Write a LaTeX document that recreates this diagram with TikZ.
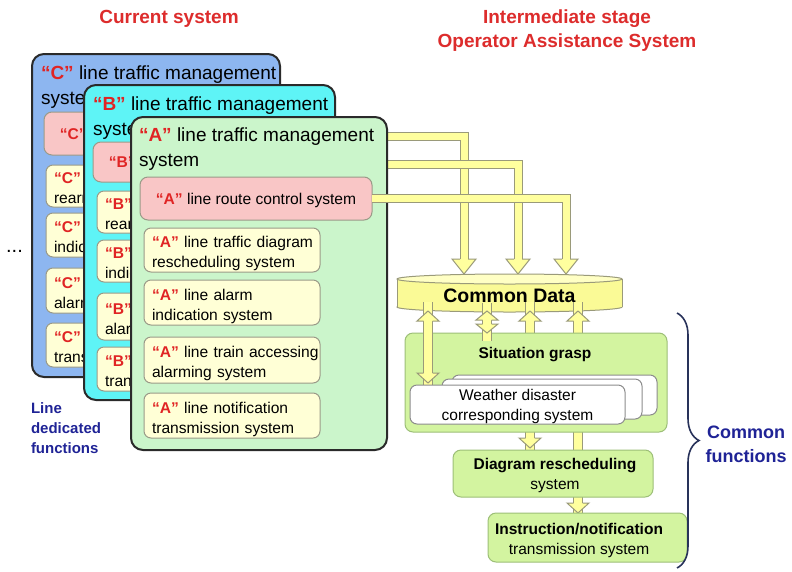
\documentclass[tikz,border=0pt]{standalone}
\usepackage{fontspec}
\setmainfont{Liberation Sans}
\usetikzlibrary{decorations.pathreplacing}

\definecolor{qred}{HTML}{E02424}
\definecolor{hred}{HTML}{DD2C2C}
\definecolor{navy}{HTML}{1F2396}
\definecolor{braceblue}{HTML}{28325A}
\definecolor{cblue}{HTML}{8DB6F0}
\definecolor{bcyan}{HTML}{5EF4F6}
\definecolor{agreen}{HTML}{CBF5CB}
\definecolor{pinkbox}{HTML}{F9C6C6}
\definecolor{creambox}{HTML}{FFFFD6}
\definecolor{fgreen}{HTML}{D3F4A0}
\definecolor{fgborder}{HTML}{9DBF78}
\definecolor{smallborder}{HTML}{9A9A88}
\definecolor{wborder}{HTML}{8C8C8C}
\definecolor{arrfill}{HTML}{FFFF9E}
\definecolor{arrline}{HTML}{9A9A7A}
\definecolor{cdbody}{HTML}{FAFA96}
\definecolor{cdtop}{HTML}{FFFFC4}
\definecolor{frame}{HTML}{2A2A2A}

% red bold line letter in quotes
\newcommand{\lineq}[1]{{\bfseries\color{qred}“#1”}}
% two unbreakable lines
\newcommand{\twolines}[2]{\mbox{#1}\\\mbox{#2}}

\begin{document}
\begin{tikzpicture}[x=1pt, y=-1pt,
  every node/.style={inner sep=0pt, outer sep=0pt},
  bigbox/.style={draw=frame, line width=2pt, rounded corners=12pt, anchor=north west},
  boxtitle/.style={anchor=north west, align=left, font=\fontsize{19}{25}\selectfont},
  routebox/.style={draw=smallborder, line width=1pt, fill=pinkbox, rounded corners=8pt,
    anchor=north west, minimum width=232pt, minimum height=#1, text depth=0pt,
    font=\fontsize{15.6}{20}\selectfont},
  funcbox/.style={draw=smallborder, line width=1pt, fill=creambox, rounded corners=7pt,
    anchor=north west, minimum width=176pt, minimum height=#1, text width=160pt,
    inner xsep=8pt, align=left, text depth=16pt, font=\fontsize{15.6}{20}\selectfont},
  heading/.style={text=hred, font=\bfseries\fontsize{19}{24}\selectfont, align=center, text depth=0pt},
  sidenote/.style={text=navy, font=\bfseries\fontsize{15}{20}\selectfont, align=left, anchor=north west},
  bracenote/.style={text=navy, font=\bfseries\fontsize{18}{24}\selectfont, align=center, text depth=0pt},
  gfunc/.style={draw=fgborder, line width=1pt, fill=fgreen, rounded corners=8pt, anchor=north west},
  wbox/.style={draw=wborder, line width=1pt, fill=white, rounded corners=7pt, anchor=north west},
  ctext/.style={font=\fontsize{15.5}{20}\selectfont, align=center, text depth=0pt},
  btext/.style={font=\bfseries\fontsize{15.5}{20}\selectfont, text depth=0pt},
  toparrow/.style={draw=arrline, line width=1pt, double=arrfill, double distance=7pt, line join=miter},
  botarrow/.style={draw=arrline, line width=1pt, double=arrfill, double distance=8pt, line join=miter},
  headshape/.style={fill=arrfill, draw=arrline, line width=1pt, line join=miter},
  pics/arrowhead/.style n args={3}{code={
    \filldraw[headshape] (-#3,-#2) -- (-#1,-#2) -- (0,0) -- (#1,-#2) -- (#3,-#2);}}
]
\fill[white] (0,0) rectangle (792,571);
\useasboundingbox (0,0) rectangle (792,571);

% ---------- headings ----------
\node[heading] (hcur) at (169,17) {Current system};
\node[heading] (hint) at (567,29) {Intermediate stage\\Operator Assistance System};

\node[font=\fontsize{20}{24}\selectfont, text depth=0pt] (dots) at (14.5,251) {...};
\node[sidenote] (ldf) at (31,402.5) {Line\\dedicated\\functions};

% ---------- line C ----------
\node[bigbox, fill=cblue, minimum width=248pt, minimum height=323pt] (C) at (32,54) {};
\node[boxtitle] (Ct) at (41,66) {\lineq{C} line traffic management\\system};
\node[routebox=43pt] (Cp) at (44,112) {\lineq{C} line route control system};
\node[funcbox=42pt] (C1) at (46,165) {\twolines{\lineq{C} line traffic}{rearrangement system}};
\node[funcbox=44pt] (C2) at (46,213) {\twolines{\lineq{C} line alarm}{indication system}};
\node[funcbox=45pt] (C3) at (46,268) {\twolines{\lineq{C} line train accessing}{alarming system}};
\node[funcbox=44pt] (C4) at (46,323) {\twolines{\lineq{C} line notification}{transmission system}};

% ---------- line B ----------
\node[bigbox, fill=bcyan, minimum width=251pt, minimum height=315pt] (B) at (84,85) {};
\node[boxtitle] (Bt) at (93,97) {\lineq{B} line traffic management\\system};
\node[routebox=40pt] (Bp) at (93,142) {\lineq{B} line route control system};
\node[funcbox=42pt] (B1) at (97,191) {\twolines{\lineq{B} line traffic}{rearrangement system}};
\node[funcbox=42pt] (B2) at (97,240) {\twolines{\lineq{B} line alarm}{indication system}};
\node[funcbox=47pt] (B3) at (97,293) {\twolines{\lineq{B} line train accessing}{alarming system}};
\node[funcbox=44pt] (B4) at (97,347) {\twolines{\lineq{B} line notification}{transmission system}};

% ---------- data links of lines C and B (behind line A) ----------
\coordinate (s1) at (380,136);
\coordinate (e1) at (464,260);
\coordinate (h1) at (464,274);
\coordinate (s2) at (380,164);
\coordinate (e2) at (518,260);
\coordinate (h2) at (518,274);
\draw[toparrow] (s1) -| (e1);
\pic at (h1) {arrowhead={12}{15}{4}};
\draw[toparrow] (s2) -| (e2);
\pic at (h2) {arrowhead={12}{15}{4}};

% ---------- line A ----------
\node[bigbox, fill=agreen, minimum width=256pt, minimum height=333pt] (A) at (131,117) {};
\node[boxtitle] (At) at (139,128) {\lineq{A} line traffic management\\system};
\node[routebox=43pt] (Ap) at (140,177) {\lineq{A} line route control system};
\node[funcbox=44pt] (A1) at (144,228) {\twolines{\lineq{A} line traffic diagram}{rescheduling system}};
\node[funcbox=45pt] (A2) at (144,280) {\twolines{\lineq{A} line alarm}{indication system}};
\node[funcbox=46pt] (A3) at (144,337) {\twolines{\lineq{A} line train accessing}{alarming system}};
\node[funcbox=45pt] (A4) at (144,393) {\twolines{\lineq{A} line notification}{transmission system}};

\coordinate (e3) at (566,260);
\coordinate (h3) at (566,274);
\draw[toparrow] (Ap.east) -| (e3);
\pic at (h3) {arrowhead={12}{15}{4}};

% ---------- common data store ----------
\filldraw[fill=cdbody, draw=arrline, line width=1pt] (509.5,307) ellipse [x radius=112.5, y radius=5];
\fill[cdbody] (397,279) rectangle (622,307);
\draw[arrline, line width=1pt] (397,279) -- (397,307) (622,279) -- (622,307);
\filldraw[fill=cdtop, draw=arrline, line width=1pt] (509.5,279) ellipse [x radius=112.5, y radius=5];
\node[font=\bfseries\fontsize{19.5}{24}\selectfont, text depth=0pt] (CD) at (509.5,296) {Common Data};

% ---------- links passing behind the function boxes ----------
\coordinate (u3) at (530,311);
\coordinate (d3) at (530,448);
\coordinate (u4) at (578,311);
\coordinate (d4) at (578,513);
\draw[botarrow] ([yshift=9pt]u3) -- ([yshift=-9pt]d3);
\pic[rotate=180] at (u3) {arrowhead={11}{10}{4.5}};
\pic at (d3) {arrowhead={11}{10}{4.5}};
\draw[botarrow] ([yshift=9pt]u4) -- ([yshift=-9pt]d4);
\pic[rotate=180] at (u4) {arrowhead={11}{10}{4.5}};
\pic at (d4) {arrowhead={11}{10}{4.5}};

% ---------- common functions ----------
\node[gfunc, minimum width=262pt, minimum height=99pt] (SG) at (405,333) {};
\node[btext] (SGt) at (535,353) {Situation grasp};
\node[gfunc, minimum width=200pt, minimum height=47pt] (DR) at (453,450) {};
\node[ctext] (DRt) at (555,473.5) {\textbf{Diagram rescheduling}\\system};
\node[gfunc, minimum width=199pt, minimum height=49pt] (IN) at (488,513) {};
\node[ctext] (INt) at (579,538.5) {\textbf{Instruction/notification}\\transmission system};

% ---------- links into situation grasp ----------
\coordinate (u1) at (428,311);
\coordinate (d1) at (428,383);
\coordinate (u2) at (487,311);
\coordinate (d2) at (487,333);
\draw[botarrow] ([yshift=9pt]u1) -- ([yshift=-9pt]d1);
\pic[rotate=180] at (u1) {arrowhead={11}{10}{4.5}};
\pic at (d1) {arrowhead={11}{10}{4.5}};
\draw[botarrow] ([yshift=8pt]u2) -- ([yshift=-8pt]d2);
\pic[rotate=180] at (u2) {arrowhead={11}{9}{4.5}};
\pic at (d2) {arrowhead={11}{9}{4.5}};

% ---------- stacked weather systems ----------
\node[wbox, minimum width=205pt, minimum height=40pt] (W3) at (452,375) {};
\node[wbox, minimum width=200pt, minimum height=40pt] (W2) at (442,379) {};
\node[wbox, minimum width=215pt, minimum height=39pt] (W1) at (410,385) {};
\node[ctext] (W1t) at (517.5,404.5) {Weather disaster\\corresponding system};

% ---------- brace ----------
\coordinate (bt) at (677,313);
\coordinate (bb) at (677,568);
\draw[braceblue, line width=1.6pt, decorate, decoration={brace, amplitude=22pt}] (bt) -- (bb);
\node[bracenote] (cf) at (746,444) {Common\\functions};
\end{tikzpicture}
\end{document}
